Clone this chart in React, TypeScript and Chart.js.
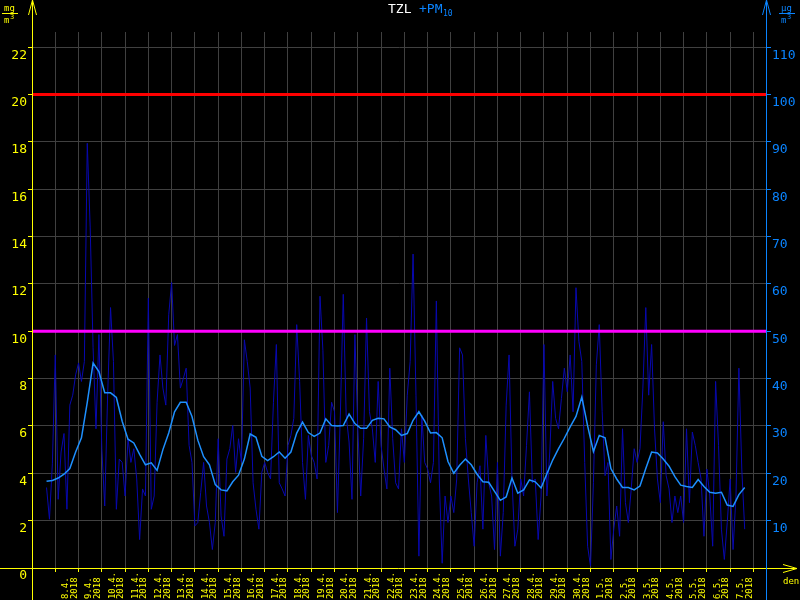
import { useEffect, useRef } from 'react';
import { Chart, registerables } from 'chart.js';

Chart.register(...registerables);

// time axis: hours since 7.4.2018 00:00
const START_HOUR = 15;
const RAW_STEP_HOURS = 3;
const AVG_STEP_HOURS = 6;
const X_MAX_HOURS = 758;
const DAY_HOURS = 24;
const DAY_COUNT = 31;

const dayLabels = [
  '8.4.', '9.4.', '10.4.', '11.4.', '12.4.', '13.4.', '14.4.', '15.4.', '16.4.', '17.4.',
  '18.4.', '19.4.', '20.4.', '21.4.', '22.4.', '23.4.', '24.4.', '25.4.', '26.4.', '27.4.',
  '28.4.', '29.4.', '30.4.', '1.5.', '2.5.', '3.5.', '4.5.', '5.5.', '6.5.', '7.5.',
];
const yearLabel = '2018';

const leftTicks = [0, 2, 4, 6, 8, 10, 12, 14, 16, 18, 20, 22];
const rightTicks = [10, 20, 30, 40, 50, 60, 70, 80, 90, 100, 110];
const LEFT_MAX = 22.64;
const RIGHT_MAX = 113.2;

const LIMIT_HIGH = 100;
const LIMIT_DAILY = 50;

// PM10 hourly values (µg/m3), sampled every 3 hours from 7.4. 15:00
const pm10Raw = [
  17, 10.3, 22, 45, 14.5, 24.5, 28.4, 12.4, 34.4,
  36.5, 40.8, 43.3, 39.4, 43.6, 89.7, 72, 46.5,
  29.4, 49.3, 25.2, 13.1, 36.5, 55, 43.6, 12.4,
  23, 22.3, 15.2, 27.3, 22.3, 25.2, 18.8, 6,
  16.7, 15.2, 57, 12.4, 15.2, 35, 45, 38,
  34.4, 53.5, 60.3, 47, 49.3, 38, 40, 42.2,
  25.9, 22.3, 8.9, 9.6, 16, 22.3, 13.1, 9.6,
  3.9, 9.6, 27.3, 11, 6.7, 23, 25.2, 30.1,
  20.2, 27.3, 22.3, 48.2, 43.6, 38, 18, 12.4,
  8.2, 20.2, 22.3, 20.2, 18.8, 35, 47.2, 18,
  16.7, 15.2, 25.9, 28, 31.6, 51.4, 39.4, 22.3,
  14.5, 28, 23.8, 22.3, 18.8, 57.4, 46, 22.3,
  25.9, 35, 33, 11.7, 32.3, 57.8, 32.3, 26.6,
  14.5, 49.3, 29.4, 15.2, 27.3, 52.8, 33, 29.4,
  22.3, 39.4, 25.9, 20.9, 16.7, 42.2, 27.3, 18,
  16.7, 29.4, 22.3, 36.5, 43.6, 66.3, 36.5, 2.5,
  32.3, 22.3, 20.9, 18, 22.3, 56.4, 18.8, 1,
  15.2, 9.6, 15.2, 11.7, 18.8, 46.5, 45, 27.3,
  18.8, 11.7, 4.6, 18, 21.6, 8.2, 28, 18,
  15.2, 3.9, 22.3, 2.5, 11.7, 34.4, 45, 18.8,
  4.6, 8.2, 18.8, 15.2, 25.9, 37.2, 18, 18.8,
  6, 15.2, 47.2, 15.2, 24.5, 39.4, 31.6, 29.4,
  35.8, 42.2, 37.2, 45, 33, 59.2, 47.9, 43.6,
  22.3, 4.6, 0.4, 18, 42.9, 51.4, 33, 19.5,
  22.3, 1.8, 8.2, 13.1, 6.7, 29.4, 13.8, 9.6,
  16.7, 25.2, 22.3, 25.2, 38, 55, 36.5, 47.2,
  29.4, 18.8, 13.8, 30.9, 19.5, 16.7, 9.6, 15.2,
  11.7, 15.2, 9.6, 29.4, 13.8, 28.7, 25.9, 22.3,
  18.8, 6.7, 20.9, 15.2, 4.6, 39.4, 25.9, 8.2,
  1.8, 9.6, 18.8, 3.9, 15.2, 42.2, 20.9, 8.2,
];

// PM10 moving average (µg/m3), every 6 hours from 7.4. 15:00
const pm10Avg = [
  18.3, 18.5, 19, 19.8, 21, 24.5, 27.5, 35, 43.3, 41.5,
  37, 37, 36, 31, 27.2, 26.4, 24, 21.8, 22.2, 20.6,
  25, 28.5, 33, 35, 35, 32, 27, 23.5, 21.8, 17.6,
  16.5, 16.3, 18.2, 19.6, 23, 28.3, 27.6, 23.6, 22.7, 23.5,
  24.5, 23.2, 24.5, 28.5, 30.8, 28.6, 27.8, 28.5, 31.5, 30.1,
  30, 30.1, 32.5, 30.5, 29.5, 29.5, 31.2, 31.6, 31.5, 29.8,
  29.2, 28, 28.4, 31.2, 33, 31, 28.5, 28.6, 27.5, 22.5,
  20, 21.7, 23, 21.8, 19.8, 18.2, 18.1, 16.2, 14.3, 15,
  19, 15.8, 16.5, 18.6, 18.2, 16.9, 19.9, 22.8, 25.2, 27.4,
  29.8, 32, 36.1, 30, 24.6, 28, 27.5, 21, 18.8, 17,
  17, 16.5, 17.3, 21, 24.5, 24.3, 23, 21.5, 19.3, 17.5,
  17.2, 17, 18.7, 17.2, 16, 15.8, 16, 13.3, 13, 15.5,
  17,
];

const YELLOW = '#ffff00';
const AXIS_BLUE = '#0a84ff';
const AVG_BLUE = '#1e90ff';
const RAW_BLUE = '#0808b0';
const GRID = '#404040';
const MONO = '"DejaVu Sans Mono", monospace';

const overlay = {
  id: 'overlay',
  afterDraw(chart: any) {
    const { ctx, chartArea } = chart;
    const L = chartArea.left;
    const R = chartArea.right - 1;
    const B = chartArea.bottom;
    ctx.save();
    ctx.lineWidth = 1;
    // left axis
    ctx.strokeStyle = YELLOW;
    ctx.beginPath();
    ctx.moveTo(L + 0.5, 0);
    ctx.lineTo(L + 0.5, 600);
    ctx.moveTo(L + 0.5, 0);
    ctx.lineTo(L - 3.5, 15);
    ctx.moveTo(L + 0.5, 0);
    ctx.lineTo(L + 4.5, 15);
    ctx.stroke();
    // bottom axis
    ctx.beginPath();
    ctx.moveTo(0, B + 0.5);
    ctx.lineTo(797, B + 0.5);
    ctx.moveTo(797, B + 0.5);
    ctx.lineTo(783, B - 3.5);
    ctx.moveTo(797, B + 0.5);
    ctx.lineTo(783, B + 4.5);
    ctx.stroke();
    // right axis
    ctx.strokeStyle = AXIS_BLUE;
    ctx.beginPath();
    ctx.moveTo(R + 0.5, 0);
    ctx.lineTo(R + 0.5, 600);
    ctx.moveTo(R + 0.5, 0);
    ctx.lineTo(R - 3.5, 15);
    ctx.moveTo(R + 0.5, 0);
    ctx.lineTo(R + 4.5, 15);
    ctx.stroke();

    // units
    ctx.textBaseline = 'alphabetic';
    ctx.textAlign = 'left';
    ctx.fillStyle = YELLOW;
    ctx.font = `9px ${MONO}`;
    ctx.fillText('mg', 4, 11);
    ctx.fillText('m', 4, 23);
    ctx.font = `7px ${MONO}`;
    ctx.fillText('3', 10, 19);
    ctx.fillRect(2, 13, 16, 1);

    ctx.fillStyle = AXIS_BLUE;
    ctx.font = `9px ${MONO}`;
    ctx.fillText('\u00b5g', 781, 11);
    ctx.fillText('m', 781, 23);
    ctx.font = `7px ${MONO}`;
    ctx.fillText('3', 787, 19);
    ctx.fillRect(779, 13, 16, 1);

    // x unit
    ctx.fillStyle = YELLOW;
    ctx.font = `9px ${MONO}`;
    ctx.fillText('den', 783, 584);

    // title
    ctx.font = `13px ${MONO}`;
    ctx.fillStyle = '#ffffff';
    ctx.fillText('TZL', 388, 13);
    ctx.fillStyle = AXIS_BLUE;
    ctx.fillText('+PM', 419, 13);
    ctx.font = `8px ${MONO}`;
    ctx.fillText('10', 443, 16);
    ctx.restore();
  },
};

export default function App() {
  const ref = useRef<HTMLCanvasElement | null>(null);

  useEffect(() => {
    document.body.style.margin = '0';
    document.body.style.background = '#000';
    const canvas = ref.current;
    if (!canvas) return;

    const rawPoints = pm10Raw.map((v, i) => ({ x: START_HOUR + i * RAW_STEP_HOURS, y: v }));
    const avgPoints = pm10Avg.map((v, i) => ({ x: START_HOUR + i * AVG_STEP_HOURS, y: v }));
    const dayTicks = Array.from({ length: DAY_COUNT }, (_, i) => (i + 1) * DAY_HOURS);

    const chart = new Chart(canvas, {
      type: 'line',
      data: {
        datasets: [
          {
            data: [{ x: 0, y: LIMIT_HIGH }, { x: X_MAX_HOURS, y: LIMIT_HIGH }],
            borderColor: '#ff0000',
            borderWidth: 3,
            pointRadius: 0,
            yAxisID: 'y2',
            order: 0,
          },
          {
            data: [{ x: 0, y: LIMIT_DAILY }, { x: X_MAX_HOURS, y: LIMIT_DAILY }],
            borderColor: '#ff00ff',
            borderWidth: 3,
            pointRadius: 0,
            yAxisID: 'y2',
            order: 1,
          },
          {
            data: avgPoints,
            borderColor: AVG_BLUE,
            borderWidth: 1.5,
            pointRadius: 0,
            tension: 0,
            yAxisID: 'y2',
            order: 2,
          },
          {
            data: rawPoints,
            borderColor: RAW_BLUE,
            borderWidth: 1,
            pointRadius: 0,
            tension: 0,
            yAxisID: 'y2',
            order: 3,
          },
        ],
      },
      options: {
        animation: false,
        responsive: false,
        devicePixelRatio: 1,
        layout: { padding: { top: 32, left: 0, right: 0, bottom: 0 } },
        plugins: { legend: { display: false }, tooltip: { enabled: false }, title: { display: false } },
        scales: {
          x: {
            type: 'linear',
            min: 0,
            max: X_MAX_HOURS,
            afterBuildTicks: (scale: any) => {
              scale.ticks = dayTicks.map((v) => ({ value: v }));
            },
            afterFit: (scale: any) => {
              scale.height = 32;
            },
            border: { display: false },
            grid: { color: GRID, tickColor: YELLOW, tickLength: 4, lineWidth: 1 },
            ticks: {
              autoSkip: false,
              minRotation: 90,
              maxRotation: 90,
              padding: 0,
              labelOffset: 10.5,
              color: YELLOW,
              font: { family: MONO, size: 9, lineHeight: 0.95 },
              callback: (value: any) => {
                const d = Math.round(Number(value) / DAY_HOURS);
                if (d < 1 || d > dayLabels.length) return '';
                return [dayLabels[d - 1].padEnd(5, ' '), yearLabel.padEnd(5, ' ')];
              },
            },
          },
          y: {
            type: 'linear',
            position: 'left',
            min: 0,
            max: LEFT_MAX,
            afterBuildTicks: (scale: any) => {
              scale.ticks = leftTicks.map((v) => ({ value: v }));
            },
            afterFit: (scale: any) => {
              scale.width = 32;
            },
            border: { display: false },
            grid: { color: GRID, tickColor: YELLOW, tickLength: 4, lineWidth: 1 },
            ticks: {
              color: YELLOW,
              padding: 1,
              labelOffset: 8,
              font: { family: MONO, size: 13 },
            },
          },
          y2: {
            type: 'linear',
            position: 'right',
            min: 0,
            max: RIGHT_MAX,
            afterBuildTicks: (scale: any) => {
              scale.ticks = rightTicks.map((v) => ({ value: v }));
            },
            afterFit: (scale: any) => {
              scale.width = 33;
            },
            border: { display: false },
            grid: { drawOnChartArea: false, tickColor: AXIS_BLUE, tickLength: 4 },
            ticks: {
              color: AXIS_BLUE,
              padding: 1,
              labelOffset: 8,
              font: { family: MONO, size: 13 },
            },
          },
        },
      },
      plugins: [overlay],
    } as any);

    return () => chart.destroy();
  }, []);

  return (
    <div style={{ position: 'absolute', left: 0, top: 0, width: 800, height: 600, background: '#000' }}>
      <canvas ref={ref} width={800} height={600} style={{ width: 800, height: 600, display: 'block' }} />
    </div>
  );
}
